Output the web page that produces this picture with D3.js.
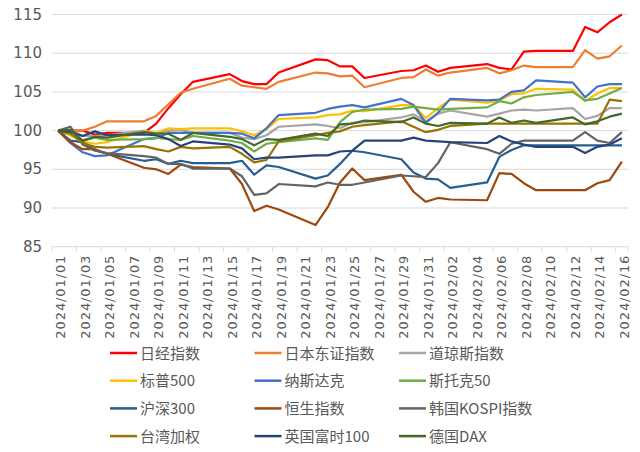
<!DOCTYPE html>
<html>
<head>
<meta charset="utf-8">
<script src="https://cdn.jsdelivr.net/npm/d3@7"></script>
<style>
  body { margin: 0; background: #fff; }
  text { font-family: "DejaVu Sans", sans-serif; fill: #595959; }
  .legend text { font-family: "Noto Sans CJK SC", "Noto Sans", sans-serif; }
</style>
</head>
<body>
<script>
// trading days (weekdays), holidays carry the previous value
const dates = ["2024-01-01","2024-01-02","2024-01-03","2024-01-04","2024-01-05",
  "2024-01-08","2024-01-09","2024-01-10","2024-01-11","2024-01-12",
  "2024-01-15","2024-01-16","2024-01-17","2024-01-18","2024-01-19",
  "2024-01-22","2024-01-23","2024-01-24","2024-01-25","2024-01-26",
  "2024-01-29","2024-01-30","2024-01-31","2024-02-01","2024-02-02",
  "2024-02-05","2024-02-06","2024-02-07","2024-02-08","2024-02-09",
  "2024-02-12","2024-02-13","2024-02-14","2024-02-15","2024-02-16"];

const names = ["日经指数","日本东证指数","道琼斯指数","标普500","纳斯达克","斯托克50",
  "沪深300","恒生指数","韩国KOSPI指数","台湾加权","英国富时100","德国DAX"];
const colors = ["#FF0000","#ED7D31","#A5A5A5","#FFC000","#4472C4","#70AD47",
  "#255E91","#9E480E","#636363","#997300","#264478","#43682B"];

const nikkei = [100,100,100,99.5,99.7,99.7,100.9,102.9,104.7,106.3,107.3,106.4,106.0,106.0,107.5,109.2,109.1,108.3,108.3,106.8,107.7,107.8,108.4,107.6,108.1,108.6,108.1,107.9,110.2,110.3,110.3,113.4,112.7,114.0,115.0];
const topix = [100,100,100,100.5,101.2,101.2,101.9,103.4,104.9,105.4,106.7,105.8,105.6,105.4,106.3,107.5,107.4,107.0,107.1,105.6,106.8,106.9,107.9,107.1,107.5,108.1,107.4,107.8,108.4,108.2,108.2,110.4,109.3,109.6,111.0];
const dow = [100,100.1,99.3,99.3,99.4,100.0,99.6,100.0,100.1,99.7,99.7,99.1,98.9,99.4,100.5,100.8,100.6,100.3,101.0,101.1,101.7,102.1,101.2,102.2,102.6,101.8,102.2,102.6,102.7,102.6,102.9,101.5,101.9,102.9,102.9];
const sp500 = [100,99.4,98.6,98.3,98.5,99.9,99.7,100.3,100.2,100.3,100.3,99.9,99.4,100.2,101.5,101.7,102.0,102.1,102.6,102.5,103.3,103.3,101.6,102.9,104.0,103.6,103.9,104.7,104.8,105.4,105.3,103.8,104.8,105.5,105.5];
const nasdaq = [100,98.4,97.2,96.7,96.8,98.9,99.0,99.7,99.7,99.7,99.7,99.6,99.0,100.3,102.0,102.3,102.8,103.1,103.3,103.0,104.1,103.3,101.0,102.3,104.1,103.9,104.0,105.0,105.2,106.5,106.2,104.3,105.7,106.0,106.0];
const stoxx50 = [100,99.6,98.7,99.1,98.8,98.9,99.1,98.9,98.8,99.3,98.7,98.4,97.3,98.3,98.5,99.0,98.8,101.1,102.4,102.7,102.8,103.1,102.9,102.7,102.8,103.0,103.8,103.5,104.3,104.6,105.0,103.9,104.1,104.8,105.5];
const csi300 = [100,98.7,98.5,97.5,97.0,96.1,96.3,95.7,96.1,95.8,95.8,96.1,94.3,95.5,95.3,93.8,94.2,95.7,97.4,97.2,96.3,94.6,93.8,93.7,92.6,93.3,96.6,97.5,98.1,98.1,98.1,98.1,98.1,98.1,98.1];
const hsi = [100,98.5,97.6,97.6,97.0,95.2,95.0,94.4,95.6,95.3,95.1,93.1,89.6,90.3,89.8,87.8,90.1,93.3,95.1,93.6,94.3,92.1,90.8,91.3,91.1,91.0,94.5,94.4,93.2,92.3,92.3,92.3,93.2,93.6,96.0];
const kospi = [100,100.5,98.2,97.4,97.1,96.7,96.5,95.7,95.7,95.1,95.1,94.1,91.7,91.9,93.1,92.8,93.3,93.0,93.0,93.3,94.2,94.1,94.0,95.8,98.5,97.6,97.0,98.3,98.7,98.7,98.7,99.8,98.7,98.4,99.8];
const taiex = [100,99.6,98.4,97.9,97.8,98.0,97.6,97.3,97.9,97.7,97.9,97.0,95.9,96.2,98.6,99.4,99.7,99.9,100.5,100.7,101.2,100.5,99.8,100.1,100.6,100.9,100.9,100.9,100.9,100.9,100.9,100.9,100.9,104.0,103.8];
const ftse = [100,99.85,99.3,99.9,99.4,99.5,99.4,98.9,98.0,98.6,98.2,97.7,96.3,96.5,96.5,96.8,96.8,97.3,97.4,98.7,98.7,99.1,98.7,98.6,98.5,98.4,99.3,98.6,98.2,97.9,97.9,97.1,97.9,98.2,99.0];
const dax = [100,100.1,98.7,99.2,99.1,99.8,99.6,99.6,98.8,99.7,99.2,98.9,98.1,98.9,98.8,99.6,99.3,100.8,100.9,101.3,101.1,101.7,100.9,100.6,101.0,100.9,101.7,101.0,101.3,101.0,101.7,100.8,101.2,101.8,102.2];

const yTicks = [85, 90, 95, 100, 105, 110, 115];

const values = [nikkei, topix, dow, sp500, nasdaq, stoxx50, csi300, hsi, kospi, taiex, ftse, dax];
const parse = d3.timeParse("%Y-%m-%d");
const days = dates.map(parse);
const series = names.map((n, i) => ({
  name: n,
  color: colors[i],
  points: values[i].map((v, j) => ({ date: days[j], value: v }))
}));

const w = 640;
const h = 452;
const plotLeft = 52, plotRight = 628, plotTop = 14.5, plotBottom = 246.7;

const svg = d3.select("body").append("svg")
  .attr("width", w)
  .attr("height", h);

const first = parse("2024-01-01");
const last = parse("2024-02-16");
const x = d3.scaleTime()
  .domain([d3.timeHour.offset(first, -12), d3.timeHour.offset(last, 12)])
  .range([plotLeft, plotRight]);
const y = d3.scaleLinear().domain([85, 115]).range([plotBottom, plotTop]);

// grid + y labels
svg.append("g")
  .selectAll("line")
  .data(yTicks)
  .enter()
  .append("line")
  .attr("x1", plotLeft)
  .attr("x2", plotRight)
  .attr("y1", d => y(d))
  .attr("y2", d => y(d))
  .attr("stroke", "#D9D9D9")
  .attr("stroke-width", 1);
svg.append("g")
  .selectAll("text")
  .data(yTicks)
  .enter()
  .append("text")
  .attr("x", 42)
  .attr("y", d => y(d) + 5)
  .attr("text-anchor", "end")
  .style("font-size", "15px")
  .text(d => d);

// x axis: label every second calendar day
const allDays = d3.timeDay.range(first, d3.timeDay.offset(last, 1));
const tickDays = allDays.filter((d, i) => i % 2 === 0);
const fmt = d3.timeFormat("%Y/%m/%d");
svg.append("g")
  .selectAll("line")
  .data(tickDays.concat([d3.timeDay.offset(last, 1)]))
  .enter()
  .append("line")
  .attr("x1", d => x(d3.timeHour.offset(d, -12)))
  .attr("x2", d => x(d3.timeHour.offset(d, -12)))
  .attr("y1", plotBottom)
  .attr("y2", plotBottom + 5)
  .attr("stroke", "#D9D9D9");
svg.append("g")
  .selectAll("text")
  .data(tickDays)
  .enter()
  .append("text")
  .attr("transform", d => `translate(${x(d) + 7},${plotBottom + 8}) rotate(-90)`)
  .attr("text-anchor", "end")
  .style("font-size", "13px")
  .style("letter-spacing", "0.9px")
  .text(d => fmt(d));

// lines
const line = d3.line()
  .x(d => x(d.date))
  .y(d => y(d.value));
svg.append("g")
  .selectAll("path")
  .data(series)
  .enter()
  .append("path")
  .attr("d", d => line(d.points))
  .attr("fill", "none")
  .attr("stroke", d => d.color)
  .attr("stroke-width", 2.2)
  .attr("stroke-linejoin", "round");

// legend 3 x 4
const legend = svg.append("g").attr("class", "legend");
const items = legend.selectAll("g")
  .data(series)
  .enter()
  .append("g")
  .attr("transform", (d, i) => `translate(${110 + 144.5 * (i % 3)},${353 + 27.7 * Math.floor(i / 3)})`);
items.append("line")
  .attr("x1", 0)
  .attr("x2", 27)
  .attr("stroke", d => d.color)
  .attr("stroke-width", 2.5);
items.append("text")
  .attr("x", 30)
  .attr("y", 5.5)
  .style("font-size", "15px")
  .text(d => d.name);
</script>
</body>
</html>
